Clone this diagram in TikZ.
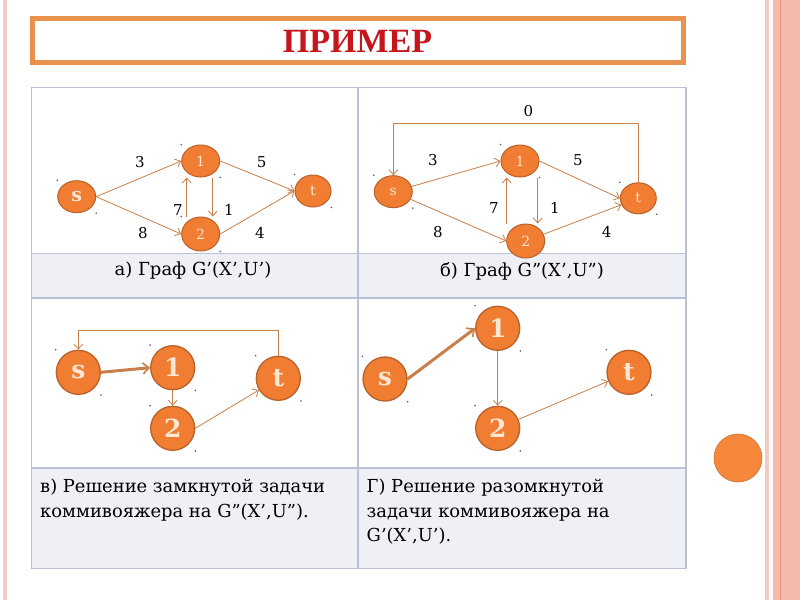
\documentclass[tikz,border=0pt]{standalone}
\usepackage{fontspec}
\setmainfont{DejaVu Serif}
\newfontfamily\titlefont{Liberation Serif}
\usetikzlibrary{arrows.meta,shapes.geometric,calc}

\definecolor{nodefill}{HTML}{F07D32}
\definecolor{nodedraw}{HTML}{B9612A}
\definecolor{nodetext}{HTML}{FCE6D4}
\definecolor{edgecol}{HTML}{C98048}
\definecolor{gridcol}{HTML}{BCC0D4}
\definecolor{capbg}{HTML}{EEF0F6}
\definecolor{titlered}{HTML}{C4161C}
\definecolor{frameor}{HTML}{E8924E}
\definecolor{pinkA}{HTML}{F2CABF}
\definecolor{pinkB}{HTML}{F5BBAA}
\definecolor{pinkC}{HTML}{E99483}
\definecolor{dotcol}{HTML}{5A5A6A}
\definecolor{bigdot}{HTML}{F5883A}

\newcommand\cornerdots[1]{%
  \fill[dotcol] (#1.west |- #1.north) circle (0.9);
  \fill[dotcol] (#1.east |- #1.south) circle (0.9);}

\begin{document}
\begin{tikzpicture}[x=1pt,y=-1pt,
  el/.style={ellipse, draw=nodedraw, line width=1pt, fill=nodefill, text=nodetext,
    inner sep=0pt, minimum width=38pt, minimum height=32pt,
    font=\fontsize{14}{14}\selectfont},
  cn/.style={circle, draw=nodedraw, line width=1.3pt, fill=nodefill, text=nodetext,
    inner sep=0pt, minimum size=44pt, font=\fontsize{25}{25}\selectfont\bfseries},
  arr/.style={draw=edgecol, line width=0.8pt, -{Straight Barb[length=5pt,width=9pt]}},
  boldarr/.style={draw=edgecol, line width=3pt,
    -{Straight Barb[length=6pt,width=11pt,line width=1.6pt]}},
  lbl/.style={font=\fontsize{15}{15}\selectfont, text=black, inner sep=0pt},
  captxt/.style={font=\fontsize{18}{18}\selectfont, text=black, inner sep=0pt},
  capl/.style={font=\fontsize{17.9}{18}\selectfont, text=black, inner sep=0pt, anchor=base west},
]
\useasboundingbox (0,0) rectangle (800,600);
\fill[white] (0,0) rectangle (800,600);

% side strips
\fill[pinkA] (3,0) rectangle (7,600);
\fill[pinkA] (765,0) rectangle (768.5,600);
\fill[pinkB] (773,0) rectangle (800,600);
\draw[pinkC, line width=0.8pt] (780.5,0) -- (780.5,600);

% title
\draw[frameor, line width=5pt] (32,18.5) rectangle (683.5,62.5);
\node[font=\titlefont\fontsize{34}{34}\selectfont\bfseries, text=titlered, inner sep=0pt]
  (title) at (357.5,41) {ПРИМЕР};

% table
\fill[capbg] (31.5,253.5) rectangle (686,298);
\fill[capbg] (31.5,468) rectangle (686,568.5);
\begin{scope}[draw=gridcol, line width=1.2pt]
  \draw (31.5,87.5) rectangle (686,568.5);
  \draw (358,87.5) -- (358,568.5);
  \draw (31.5,253.5) -- (686,253.5);
  \draw (31.5,298) -- (686,298);
  \draw (31.5,468) -- (686,468);
\end{scope}

% captions
\node[captxt] (capa) at (193,271) {а) Граф G’(X’,U’)};
\node[captxt] (capb) at (522,271) {б) Граф G”(X’,U”)};
\node[capl] (capc1) at (40,492) {в) Решение замкнутой задачи};
\node[capl] (capc2) at (40,517) {коммивояжера на G”(X’,U”).};
\node[capl] (capd1) at (366.5,492) {Г) Решение разомкнутой};
\node[capl] (capd2) at (366.5,517) {задачи коммивояжера на};
\node[capl] (capd3) at (366.5,541) {G’(X’,U’).};

% ---------- graph a ----------
\node[el, font=\fontsize{19}{19}\selectfont\bfseries] (as) at (76.7,196.7) {s};
\node[el] (a1) at (200.7,161) {1};
\node[el, minimum height=34pt] (a2) at (200.7,234) {2};
\node[el, minimum width=36pt] (at) at (313,191) {t};
\draw[arr] (as.east) -- (a1.west);
\draw[arr] (as.east) -- (a2.west);
\draw[arr] (a1.east) -- (at.west);
\draw[arr] (a2.east) -- (at.west);
\draw[arr] ([xshift=-14pt]a2.north) -- ([xshift=-14pt]a1.south);
\draw[arr] ([xshift=12pt]a1.south) -- ([xshift=12pt]a2.north);
\node[lbl] (la3) at (140,162) {3};
\node[lbl] (la5) at (261.7,161.7) {5};
\node[lbl] (la7) at (178,210) {7};
\node[lbl] (la1) at (229,210) {1};
\node[lbl] (la8) at (143,233) {8};
\node[lbl] (la4) at (260,233) {4};
\cornerdots{as}\cornerdots{a1}\cornerdots{a2}\cornerdots{at}

% ---------- graph b ----------
\node[el] (bs) at (393.3,191.7) {s};
\node[el] (b1) at (520,161) {1};
\node[el, minimum height=34pt] (b2) at (525.7,241) {2};
\node[el, minimum width=36pt, minimum height=31pt] (bt) at (638.3,198.3) {t};
\coordinate (btop) at (0,123);
\draw[arr] (bt.north) -- (bt.north |- btop) -| (bs.north);
\draw[arr] (bs) -- (b1.west);
\draw[arr] (bs) -- (b2.west);
\draw[arr] (b1.east) -- (bt.west);
\draw[arr] (b2) -- (bt);
\draw[arr] ([xshift=-19pt]b2.north) -- ([xshift=-13.3pt]b1.south);
\draw[arr] ([xshift=17.7pt]b1.south) -- ([xshift=12pt]b2.north);
\node[lbl] (lb0) at (528.3,111) {0};
\node[lbl] (lb3) at (433,160) {3};
\node[lbl] (lb5) at (578,160) {5};
\node[lbl] (lb7) at (494,207.7) {7};
\node[lbl] (lb1) at (555,208) {1};
\node[lbl] (lb8) at (438,231.7) {8};
\node[lbl] (lb4) at (606.7,231.7) {4};
\cornerdots{bs}\cornerdots{b1}\cornerdots{bt}

% ---------- graph c ----------
\node[cn] (cs) at (78.3,372.3) {s};
\node[cn] (c1) at (172.7,367.7) {1};
\node[cn] (c2) at (172.7,428.3) {2};
\node[cn] (ct) at (278.3,378.3) {t};
\coordinate (ctop) at (0,330);
\draw[arr] (ct.north) -- (ct.north |- ctop) -| (cs.north);
\draw[boldarr] (cs.east) -- (c1.west);
\draw[arr] (c1.south) -- (c2.north);
\draw[arr] (c2.east) -- (ct);
\cornerdots{cs}\cornerdots{c1}\cornerdots{c2}\cornerdots{ct}

% ---------- graph d ----------
\node[cn] (ds) at (385,379) {s};
\node[cn] (d1) at (497.7,328.3) {1};
\node[cn] (d2) at (497.7,428.3) {2};
\node[cn] (dt) at (629,372.3) {t};
\draw[boldarr] (ds.east) -- (d1.west);
\draw[arr] (d1.south) -- (d2.north);
\draw[arr] (d2) -- (dt);
\cornerdots{ds}\cornerdots{d1}\cornerdots{d2}\cornerdots{dt}

% decorative circle
\fill[bigdot, draw=nodedraw!60!bigdot, line width=0.6pt] (738,458) circle (24);
\end{tikzpicture}
\end{document}
